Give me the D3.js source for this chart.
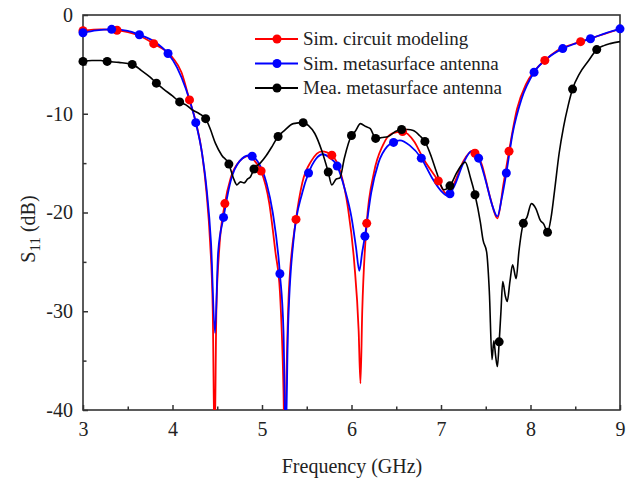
<!DOCTYPE html>
<html><head><meta charset="utf-8">
<script src="https://cdn.jsdelivr.net/npm/d3@7"></script>
<style>html,body{margin:0;padding:0;background:#fff;}svg{display:block;}</style>
</head><body><svg id="c" width="633" height="479"></svg>
<script>
// ---- data ----
const xTicks = [3,4,5,6,7,8,9];
const yTicks = [0,-10,-20,-30,-40];
const seriesNames = ["Sim. circuit modeling","Sim. metasurface antenna","Mea. metasurface antenna"];
const seriesColors = ["#ff0000","#0000ff","#000000"];

const circuitF = [3.0,3.2,3.38,3.6,3.79,4.0,4.1,4.19,4.26,4.33,4.38,4.42,4.45,4.47,4.49,4.52,4.585,4.65,4.75,4.85,4.92,4.99,5.08,5.15,5.2,5.24,5.255,5.27,5.3,5.38,5.45,5.55,5.67,5.78,5.88,5.96,6.03,6.08,6.10,6.12,6.17,6.25,6.35,6.45,6.57,6.7,6.8,6.97,7.06,7.15,7.25,7.36,7.38,7.45,7.55,7.63,7.7,7.76,7.85,7.95,8.05,8.16,8.3,8.56,8.8,9.0];
const circuitS = [-1.6,-1.45,-1.55,-2.0,-2.9,-4.3,-5.8,-8.6,-10.8,-14,-18,-23,-30,-44,-30,-24,-19.1,-16.5,-14.8,-14.3,-14.8,-15.8,-19,-24,-28,-38,-45,-38,-28,-20.7,-17,-14.8,-13.8,-14.2,-16,-19.5,-25,-32,-37.3,-30,-21.1,-16,-13.2,-12.0,-11.8,-12.8,-14.5,-16.8,-18.1,-17,-14.8,-13.7,-14.0,-15,-18.5,-20.6,-17,-13.8,-9.5,-7,-5.6,-4.6,-3.6,-2.7,-2.0,-1.4];
const circuitMarkF = [3.0,3.38,3.79,4.19,4.585,4.99,5.38,5.78,6.17,6.57,6.97,7.38,7.76,8.16,8.56];
const circuitMarkS = [-1.6,-1.55,-2.9,-8.6,-19.1,-15.8,-20.7,-14.2,-21.1,-11.8,-16.8,-14.0,-13.8,-4.6,-2.7];

const antennaF = [3.0,3.15,3.32,3.5,3.63,3.8,3.95,4.05,4.15,4.26,4.33,4.38,4.43,4.475,4.51,4.57,4.65,4.75,4.86,4.89,4.95,5.05,5.12,5.2,5.24,5.265,5.29,5.35,5.45,5.52,5.6,5.68,5.75,5.84,5.93,6.0,6.05,6.087,6.12,6.15,6.22,6.3,6.4,6.47,6.54,6.65,6.78,6.9,7.0,7.07,7.1,7.15,7.25,7.34,7.42,7.5,7.57,7.63,7.68,7.73,7.8,7.9,8.04,8.2,8.36,8.5,8.67,8.85,9.0];
const antennaS = [-1.8,-1.55,-1.45,-1.6,-2.0,-2.7,-3.9,-5.3,-7.5,-10.9,-14,-17.5,-23,-32.2,-24,-20.5,-16.8,-14.8,-14.2,-14.3,-14.8,-17,-20,-26.2,-32,-43,-32,-23,-18,-16.0,-14.6,-14.1,-14.4,-15.3,-17.8,-20.5,-23.5,-25.9,-24,-22.4,-18,-15,-13.3,-12.9,-12.7,-13.2,-14.5,-16.5,-17.8,-18.3,-18.1,-17.3,-15,-13.8,-14.5,-16.8,-19.2,-20.4,-18.5,-16.0,-12,-8.5,-5.8,-4.3,-3.4,-2.9,-2.4,-1.8,-1.4];
const antennaMarkF = [3.0,3.32,3.63,3.95,4.26,4.57,4.89,5.2,5.52,5.84,6.15,6.47,6.78,7.1,7.42,7.73,8.04,8.36,8.67,9.0];
const antennaMarkS = [-1.8,-1.45,-2.0,-3.9,-10.9,-20.5,-14.3,-26.2,-16.0,-15.3,-22.4,-12.9,-14.5,-18.1,-14.5,-16.0,-5.8,-3.4,-2.4,-1.4];

const measF = [3.0,3.1,3.2,3.27,3.4,3.55,3.65,3.75,3.82,3.9,4.0,4.08,4.15,4.22,4.3,4.37,4.42,4.48,4.55,4.63,4.68,4.72,4.76,4.8,4.84,4.87,4.91,4.98,5.05,5.12,5.18,5.25,5.35,5.46,5.52,5.59,5.67,5.74,5.78,5.83,5.87,5.92,6.0,6.04,6.1,6.16,6.21,6.27,6.34,6.41,6.49,6.56,6.63,6.69,6.76,6.82,6.89,6.95,7.03,7.1,7.18,7.27,7.33,7.38,7.44,7.47,7.51,7.54,7.57,7.59,7.61,7.63,7.65,7.67,7.69,7.72,7.74,7.77,7.80,7.84,7.87,7.92,7.96,8.01,8.06,8.11,8.15,8.19,8.23,8.27,8.32,8.37,8.42,8.47,8.55,8.65,8.74,8.82,8.89,9.0];
const measS = [-4.7,-4.6,-4.6,-4.7,-4.8,-5.0,-5.6,-6.3,-6.9,-7.5,-8.2,-8.8,-9.1,-9.6,-10.0,-10.5,-11.5,-13.0,-14.2,-15.1,-16.5,-17.2,-16.9,-17.0,-16.6,-16.4,-15.6,-15.0,-14.2,-13.2,-12.3,-11.7,-11.0,-10.9,-11.2,-12.0,-13.8,-15.9,-17.2,-16.6,-16.5,-14.5,-12.2,-11.8,-11.0,-11.3,-11.5,-12.5,-12.4,-12.3,-11.8,-11.6,-11.6,-11.7,-12.2,-12.8,-14.3,-15.9,-17.7,-17.3,-15.9,-14.9,-16.5,-18.2,-21,-22.8,-24.0,-28,-34.9,-33.0,-34.5,-35.6,-33.1,-30,-27.0,-28.5,-29.0,-27,-25.3,-26.7,-24,-21.1,-20.5,-19.1,-19.6,-20.8,-21.2,-22.0,-20.5,-17.7,-14,-11.3,-9.2,-7.5,-5.9,-4.6,-3.5,-3.1,-2.9,-2.7];
const measMarkF = [3.0,3.27,3.55,3.82,4.08,4.37,4.63,4.91,5.18,5.46,5.74,6.0,6.27,6.56,6.82,7.1,7.38,7.65,7.92,8.19,8.47,8.74];
const measMarkS = [-4.7,-4.7,-5.0,-6.9,-8.8,-10.5,-15.1,-15.6,-12.3,-10.9,-15.9,-12.2,-12.5,-11.6,-12.8,-17.3,-18.2,-33.1,-21.1,-22.0,-7.5,-3.5];

// ---- chart ----
const L=83,R=620,T=15,B=410;
const FONT='"Liberation Serif"';
const svg=d3.select("#c");
const x=d3.scaleLinear().domain([3,9]).range([L,R]);
const y=d3.scaleLinear().domain([-40,0]).range([B,T]);
const axisColor="#333";

svg.append("defs").append("clipPath").attr("id","clip")
  .append("rect").attr("x",L).attr("y",T).attr("width",R-L).attr("height",B-T);

const minorX=d3.range(3.5,9,1), minorY=d3.range(-35,0,10);
const gx=svg.append("g").attr("transform",`translate(0,${B})`)
  .call(d3.axisBottom(x).tickValues(xTicks).tickSize(-5).tickPadding(12).tickFormat(d3.format("d")));
svg.append("g").attr("transform",`translate(0,${B})`)
  .call(d3.axisBottom(x).tickValues(minorX).tickSize(-3.5).tickFormat(""));
const gy=svg.append("g").attr("transform",`translate(${L},0)`)
  .call(d3.axisLeft(y).tickValues(yTicks).tickSize(-5).tickPadding(10).tickFormat(d=>d<0?"-"+Math.abs(d):d));
svg.append("g").attr("transform",`translate(${L},0)`)
  .call(d3.axisLeft(y).tickValues(minorY).tickSize(-3.5).tickFormat(""));
svg.selectAll(".domain").remove();
svg.selectAll(".tick line").attr("stroke",axisColor).attr("stroke-width",1.5);
svg.selectAll(".tick text").attr("font-size",20).attr("fill","#222");
gx.selectAll(".tick text").attr("dy","0.71em");

svg.append("rect").attr("x",L).attr("y",T).attr("width",R-L).attr("height",B-T)
  .attr("fill","none").attr("stroke",axisColor).attr("stroke-width",1.6);

const line=d3.line().x(d=>x(d[0])).y(d=>y(d[1])).curve(d3.curveMonotoneX);
const series=[
  {f:circuitF,s:circuitS,mf:circuitMarkF,ms:circuitMarkS,w:1.8},
  {f:antennaF,s:antennaS,mf:antennaMarkF,ms:antennaMarkS,w:1.8},
  {f:measF,s:measS,mf:measMarkF,ms:measMarkS,w:1.6}
];
const plot=svg.append("g").attr("clip-path","url(#clip)");
series.forEach((se,i)=>{
  const pts=se.f.map((f,j)=>[f,se.s[j]]);
  plot.append("path").datum(pts).attr("d",line).attr("fill","none")
    .attr("stroke",seriesColors[i]).attr("stroke-width",se.w).attr("stroke-linejoin","round");
});
series.forEach((se,i)=>{
  const mk=se.mf.map((f,j)=>[f,se.ms[j]]);
  svg.append("g").selectAll("circle").data(mk).join("circle")
    .attr("cx",d=>x(d[0])).attr("cy",d=>y(d[1])).attr("r",4.5).attr("fill",seriesColors[i]);
});

const lg=svg.append("g");
seriesNames.forEach((n,i)=>{
  const yy=39+i*24.5;
  lg.append("line").attr("x1",255).attr("x2",298).attr("y1",yy).attr("y2",yy)
    .attr("stroke",seriesColors[i]).attr("stroke-width",1.8);
  lg.append("circle").attr("cx",277).attr("cy",yy).attr("r",4.5).attr("fill",seriesColors[i]);
  lg.append("text").attr("x",303).attr("y",yy+6).attr("font-size",19).attr("fill","#222").text(n);
});

svg.append("text").attr("x",352).attr("y",473).attr("text-anchor","middle")
  .attr("font-size",20).attr("fill","#222").text("Frequency (GHz)");
const yl=svg.append("text").attr("transform","translate(35,229) rotate(-90)")
  .attr("text-anchor","middle").attr("font-size",20).attr("fill","#222");
yl.append("tspan").text("S");
yl.append("tspan").attr("font-size",15).attr("dy",5).text("11");
yl.append("tspan").attr("dy",-5).text(" (dB)");

svg.selectAll("text").style("font-family",FONT);
</script></body></html>
